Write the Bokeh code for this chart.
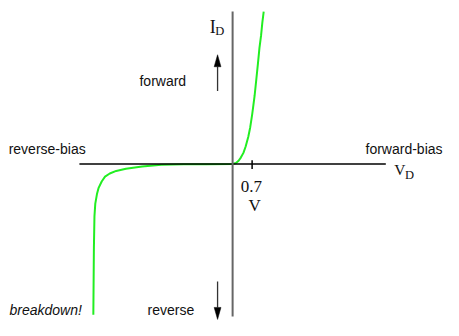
from bokeh.plotting import figure
from bokeh.models import Range1d, Label
from bokeh.embed import file_html
from bokeh.resources import INLINE

# Diode I-V characteristic (V in volts, I in arbitrary units)
fwd_v = [0.0, 0.121, 0.215, 0.295, 0.388, 0.468, 0.561, 0.631, 0.700, 0.745,
         0.790, 0.849, 0.908, 0.963, 1.022, 1.067, 1.116]
fwd_i = [0.0, 0.125, 0.425, 0.84, 1.46, 2.30, 3.55, 4.80, 6.46, 7.71,
         8.96, 11.05, 13.13, 15.21, 16.88, 18.55, 20.0]
rev_v = [0.0, -0.95, -1.75, -2.56, -3.25, -3.83, -4.18, -4.41, -4.58, -4.70,
         -4.81, -4.87, -4.93, -4.96, -4.98, -5.00]
rev_i = [0.0, -0.02, -0.04, -0.10, -0.33, -0.63, -0.91, -1.25, -1.66, -2.29,
         -3.13, -3.95, -5.2, -6.88, -11.04, -19.8]

axis_v = [-5.5, 5.5]
axis_i = [-20.0, 20.0]
tick_v = 0.7
tick_label = "0.7"
unit_label = "V"

arrow_x = -0.54
up_arrow = (9.59, 14.34)     # from, tip
down_arrow = (-15.42, -20.4)

W, H = 443, 320
x0, x1 = -8.333, 7.571
y0, y1 = -20.54, 21.46
px_v = W / (x1 - x0)
px_i = H / (y1 - y0)

p = figure(width=W, height=H, output_backend="svg", toolbar_location=None,
           x_range=Range1d(x0, x1), y_range=Range1d(y0, y1),
           x_axis_location=None, y_axis_location=None, min_border=0)
p.grid.visible = False
p.outline_line_color = None

curve_v = list(reversed(rev_v)) + fwd_v[1:]
curve_i = list(reversed(rev_i)) + fwd_i[1:]
p.line(curve_v, curve_i, line_color="#22ee22", line_width=2, line_join="round")

# axes
p.line(axis_v, [0, 0], line_color="black", line_width=1.5)
p.line([0, 0], axis_i, line_color="#666666", line_width=2)
p.line([tick_v, tick_v], [0.5, -0.65], line_color="black", line_width=1.5)

# arrows
head_len = 12 / px_i
head_hw = 3.4 / px_v
for a, tip in (up_arrow, down_arrow):
    d = 1 if tip > a else -1
    base = tip - d * head_len
    p.line([arrow_x, arrow_x], [a, base], line_color="#333333", line_width=1.3)
    p.patch([arrow_x - head_hw, arrow_x + head_hw, arrow_x],
            [base, base, tip], fill_color="black", line_color="black", line_width=0.5)

sans = "Liberation Sans"
serif = "Liberation Serif"

def lab(x, y, t, font, size, style="normal", align="left"):
    p.add_layout(Label(x=x, y=y, text=t, text_font=font, text_font_size=size,
                       text_font_style=style, text_align=align,
                       text_baseline="alphabetic", text_color="#111111"))

lab(-3.344, 10.96, "forward", sans, "14px")
lab(-8.04, 1.96, "reverse-bias", sans, "14px")
lab(7.536, 1.96, "forward-bias", sans, "14px", align="right")
lab(-8.01, -19.1, "breakdown!", sans, "14px", style="italic")
lab(-3.056, -19.1, "reverse", sans, "14px")

lab(-0.825, 17.96, "I", serif, "18px")
lab(-0.62, 17.46, "D", serif, "12.5px")
lab(5.804, -0.66, "V", serif, "15.5px")
lab(6.19, -1.41, "D", serif, "12.5px")
lab(0.676, -2.91, tick_label, serif, "17px", align="center")
lab(0.79, -5.41, unit_label, serif, "17px", align="center")

open("out.html", "w").write(file_html(p, INLINE))
